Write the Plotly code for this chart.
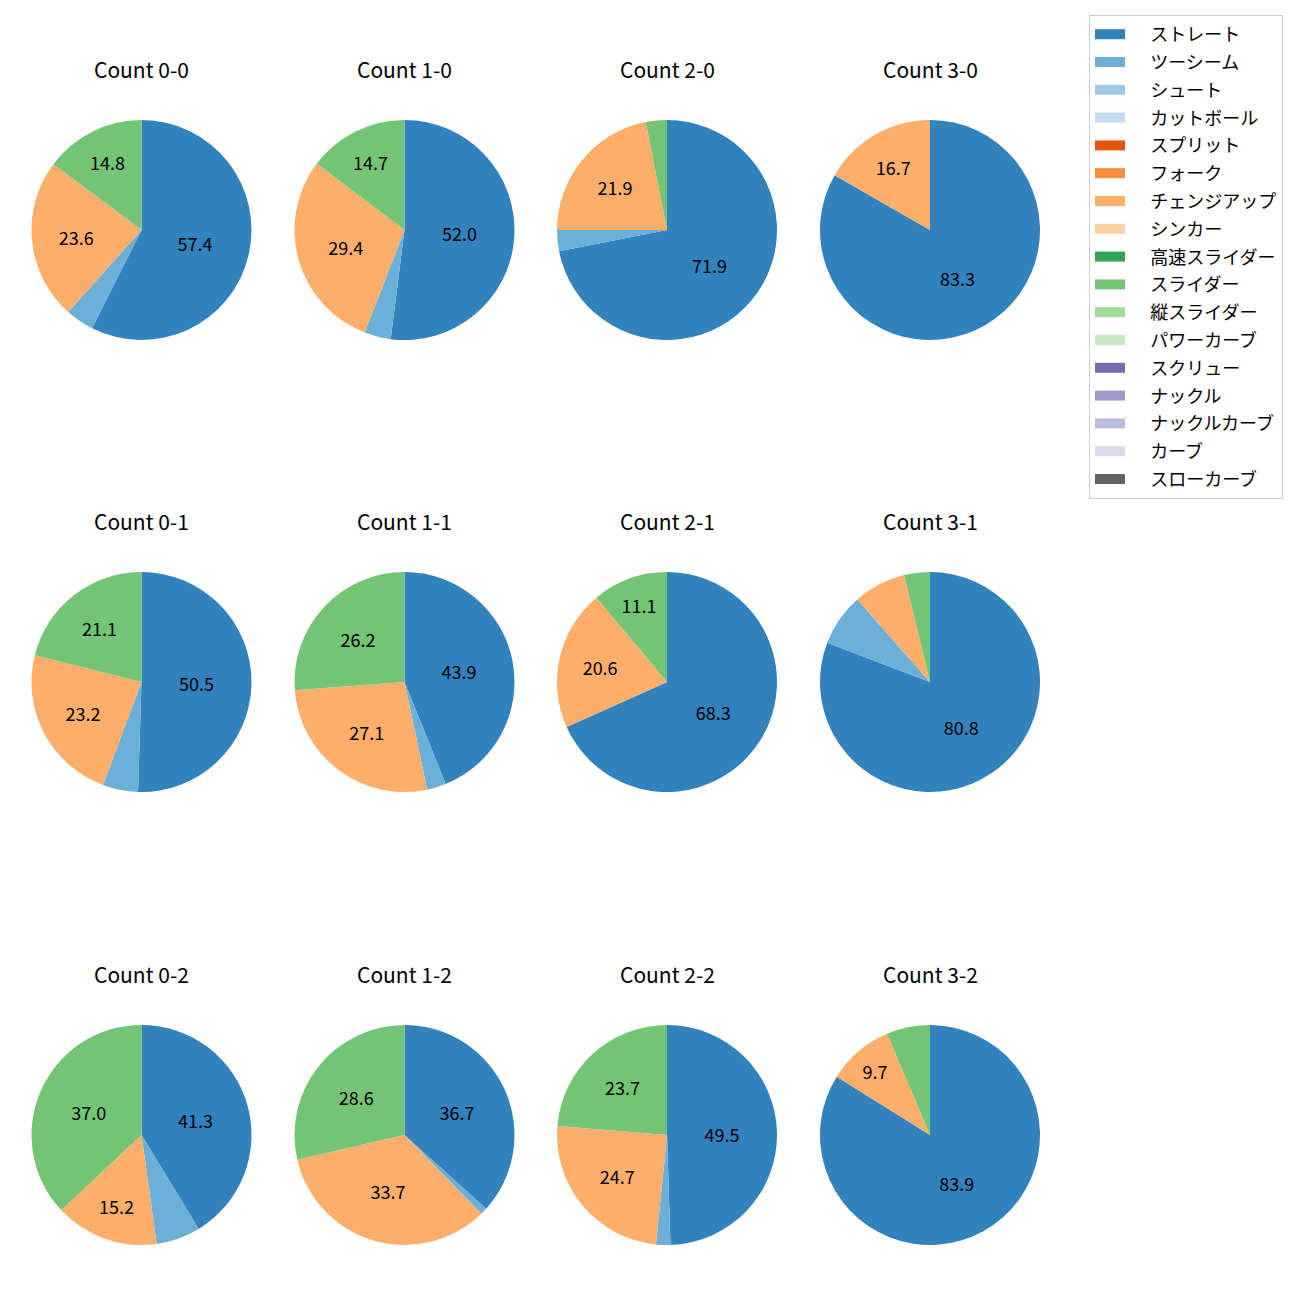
import plotly.graph_objects as go

pitch_types = ["ストレート", "ツーシーム", "シュート", "カットボール", "スプリット", "フォーク",
               "チェンジアップ", "シンカー", "高速スライダー", "スライダー", "縦スライダー",
               "パワーカーブ", "スクリュー", "ナックル", "ナックルカーブ", "カーブ", "スローカーブ"]
colors = ["#3182bd", "#6baed6", "#9ecae1", "#c6dbef", "#e6550d", "#fd8d3c", "#fdae6b",
          "#fdd0a2", "#31a354", "#74c476", "#a1d99b", "#c7e9c0", "#756bb1", "#9e9ac8",
          "#bcbddc", "#dadaeb", "#636363"]

counts = ["0-0", "1-0", "2-0", "3-0",
          "0-1", "1-1", "2-1", "3-1",
          "0-2", "1-2", "2-2", "3-2"]

# shares (%) per count: ストレート, ツーシーム, チェンジアップ, スライダー
straight = [57.4, 52.0, 71.9, 83.3, 50.5, 43.9, 68.3, 80.8, 41.3, 36.7, 49.5, 83.9]
twoseam  = [4.2, 3.9, 3.1, 0.0, 5.2, 2.8, 0.0, 7.7, 6.5, 1.0, 2.1, 0.0]
changeup = [23.6, 29.4, 21.9, 16.7, 23.2, 27.1, 20.6, 7.7, 15.2, 33.7, 24.7, 9.7]
slider   = [14.8, 14.7, 3.1, 0.0, 21.1, 26.2, 11.1, 3.8, 37.0, 28.6, 23.7, 6.4]

OFF = 8  # page body margin
W = H = 1300 - OFF
centers_x = [141.5 - OFF, 404.5 - OFF, 667 - OFF, 930 - OFF]
centers_y = [230 - OFF, 682 - OFF, 1135 - OFF]
R = 110
FONT = "Noto Sans CJK JP, Noto Sans, DejaVu Sans, sans-serif"

fig = go.Figure()
annotations = []
for k, cnt in enumerate(counts):
    r, c = divmod(k, 4)
    vals = [0.0] * len(pitch_types)
    vals[0] = straight[k]
    vals[1] = twoseam[k]
    vals[6] = changeup[k]
    vals[9] = slider[k]
    total = sum(vals)
    texts = [f"{v / total * 100:.1f}" if v / total * 100 >= 9 else "" for v in vals]
    cx, cy = centers_x[c], centers_y[r]
    fig.add_trace(go.Pie(
        labels=pitch_types, values=vals, text=texts, textinfo="text",
        textposition="inside", insidetextorientation="horizontal",
        insidetextfont=dict(color="black", size=18, family=FONT),
        marker=dict(colors=colors, line=dict(width=0)),
        sort=False, direction="clockwise", rotation=0,
        showlegend=False, hoverinfo="label+percent",
        domain=dict(x=[(cx - R) / W, (cx + R) / W], y=[1 - (cy + R) / H, 1 - (cy - R) / H]),
    ))
    annotations.append(dict(text=f"Count {cnt}", x=cx / W, y=1 - (cy - R - 51) / H,
                            xref="paper", yref="paper", showarrow=False,
                            xanchor="center", yanchor="middle",
                            font=dict(size=21, color="black", family=FONT)))

PAD = "\u00a0" * 5
for name, col in zip(pitch_types, colors):
    fig.add_trace(go.Scatter(x=[None], y=[None], mode="lines", name=PAD + name,
                             legendgroup=name, line=dict(color=col, width=13),
                             hoverinfo="skip"))

fig.update_layout(
    width=W, height=H, margin=dict(l=0, r=0, t=0, b=0),
    paper_bgcolor="white", plot_bgcolor="white",
    xaxis=dict(visible=False), yaxis=dict(visible=False),
    annotations=annotations,
    legend=dict(x=(1283 - OFF) / W, y=1 - (15 - OFF) / H, xanchor="right", yanchor="top",
                bgcolor="white", bordercolor="#cccccc", borderwidth=1,
                font=dict(size=18, color="black", family=FONT),
                traceorder="grouped", tracegroupgap=1.4),
    font=dict(family=FONT),
)
fig.write_html("out.html")
